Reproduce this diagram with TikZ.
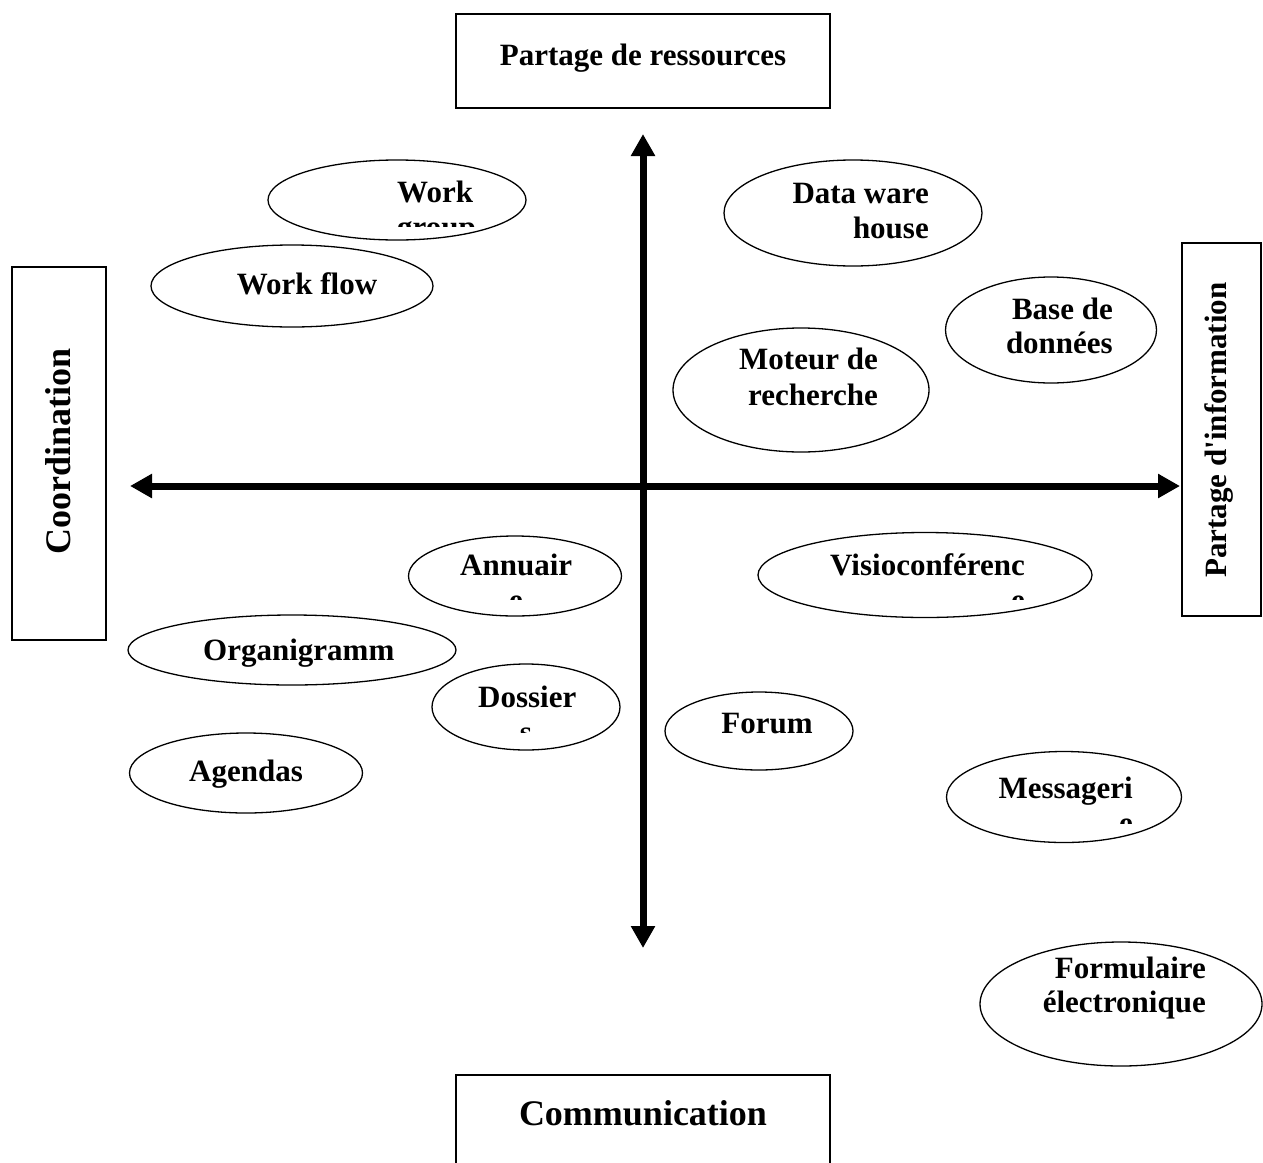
\documentclass[tikz,border=0pt]{standalone}
\usepackage{fontspec}
\setmainfont{Liberation Serif}
\usetikzlibrary{arrows.meta,shapes.geometric}
\tikzset{
  lbl/.style={font=\fontsize{31}{35.5}\selectfont\bfseries, inner sep=0pt},
  biglbl/.style={font=\fontsize{36}{40}\selectfont\bfseries, inner sep=0pt},
  oval/.style={draw, ellipse, line width=1.3pt, inner sep=0pt},
  framebox/.style={draw, rectangle, line width=1.5pt, inner sep=0pt},
  axis/.style={line width=7pt, {Triangle[length=22pt,width=23pt]}-{Triangle[length=22pt,width=23pt]}},
}
\begin{document}
\begin{tikzpicture}[x=1pt,y=-1pt]
\clip (0,0) rectangle (1263,1162);
\fill[white] (0,0) rectangle (1263,1162);

% boxes
\node[framebox, minimum width=374pt, minimum height=94pt] (prbox) at (643,61) {};
\node[lbl, anchor=base] (prtxt) at (643,65) {Partage de ressources};
\node[framebox, minimum width=374pt, minimum height=130pt] (cmbox) at (643,1140) {};
\node[biglbl, anchor=base] (cmtxt) at (643,1125) {Communication};
\node[framebox, minimum width=94pt, minimum height=373pt] (cobox) at (59,453.5) {};
\node[biglbl, rotate=90, anchor=base] (cotxt) at (70,451) {Coordination};
\node[framebox, minimum width=79pt, minimum height=373pt] (pibox) at (1221.5,429.5) {};
\node[lbl, rotate=90, anchor=base] (pitxt) at (1226,430) {Partage d\textquotesingle information};

% axes
\coordinate (ytop) at (643,134);
\coordinate (ybot) at (643,948);
\coordinate (xleft) at (130,486);
\coordinate (xright) at (1180,486);
\draw[axis] (ybot) -- (ytop);
\draw[axis] (xleft) -- (xright);

% ellipses
\node[oval, minimum width=258pt, minimum height=80pt] (wg) at (397,200) {};
\node[lbl, anchor=base west] (wgt1) at (397,202) {Work};
\begin{scope}
  \clip (300,150) rectangle (560,226);
  \node[lbl, anchor=base west] (wgt2) at (397,237.5) {group};
\end{scope}

\node[oval, minimum width=282pt, minimum height=82pt] (wf) at (292,286) {};
\node[lbl, anchor=base] (wft) at (307,294) {Work flow};

\node[oval, minimum width=258pt, minimum height=106pt] (dw) at (853,213) {};
\node[lbl, anchor=base east] (dwt1) at (929,203) {Data ware};
\node[lbl, anchor=base east] (dwt2) at (929,238) {house};

\node[oval, minimum width=211pt, minimum height=106pt] (bd) at (1051,330) {};
\node[lbl, anchor=base east] (bdt1) at (1113,319) {Base de};
\node[lbl, anchor=base east] (bdt2) at (1113,353) {données};

\node[oval, minimum width=256pt, minimum height=124pt] (mr) at (801,390) {};
\node[lbl, anchor=base east] (mrt1) at (878,369) {Moteur de};
\node[lbl, anchor=base east] (mrt2) at (878,405) {recherche};

\node[oval, minimum width=213pt, minimum height=80pt] (an) at (515,576) {};
\node[lbl, anchor=base west] (ant1) at (460,575) {Annuair};
\begin{scope}
  \clip (440,580) rectangle (600,599);
  \node[lbl, anchor=base] (ant2) at (516,610.5) {e};
\end{scope}

\node[oval, minimum width=334pt, minimum height=85pt] (vc) at (925,575) {};
\node[lbl, anchor=base east] (vct1) at (1025,575) {Visioconférenc};
\begin{scope}
  \clip (800,580) rectangle (1060,599);
  \node[lbl, anchor=base east] (vct2) at (1025,610.5) {e};
\end{scope}

\node[oval, minimum width=328pt, minimum height=70pt] (og) at (292,650) {};
\node[lbl, anchor=base west] (ogt) at (203,660) {Organigramm};

\node[oval, minimum width=188pt, minimum height=86pt] (ds) at (526,707) {};
\node[lbl, anchor=base west] (dst1) at (478,707) {Dossier};
\begin{scope}
  \clip (460,712) rectangle (600,732);
  \node[lbl, anchor=base] (dst2) at (526,742.5) {s};
\end{scope}

\node[oval, minimum width=188pt, minimum height=78pt] (fo) at (759,731) {};
\node[lbl, anchor=base] (fot) at (767,733) {Forum};

\node[oval, minimum width=233pt, minimum height=80pt] (ag) at (246,773) {};
\node[lbl, anchor=base] (agt) at (246,781) {Agendas};

\node[oval, minimum width=235pt, minimum height=91pt] (ms) at (1064,797) {};
\node[lbl, anchor=base east] (mst1) at (1133,798) {Messageri};
\begin{scope}
  \clip (980,803) rectangle (1160,823);
  \node[lbl, anchor=base east] (mst2) at (1133,833.5) {e};
\end{scope}

\node[oval, minimum width=282pt, minimum height=124pt] (fe) at (1121,1004) {};
\node[lbl, anchor=base east] (fet1) at (1206,978) {Formulaire};
\node[lbl, anchor=base east] (fet2) at (1206,1012) {électronique};
\end{tikzpicture}
\end{document}
